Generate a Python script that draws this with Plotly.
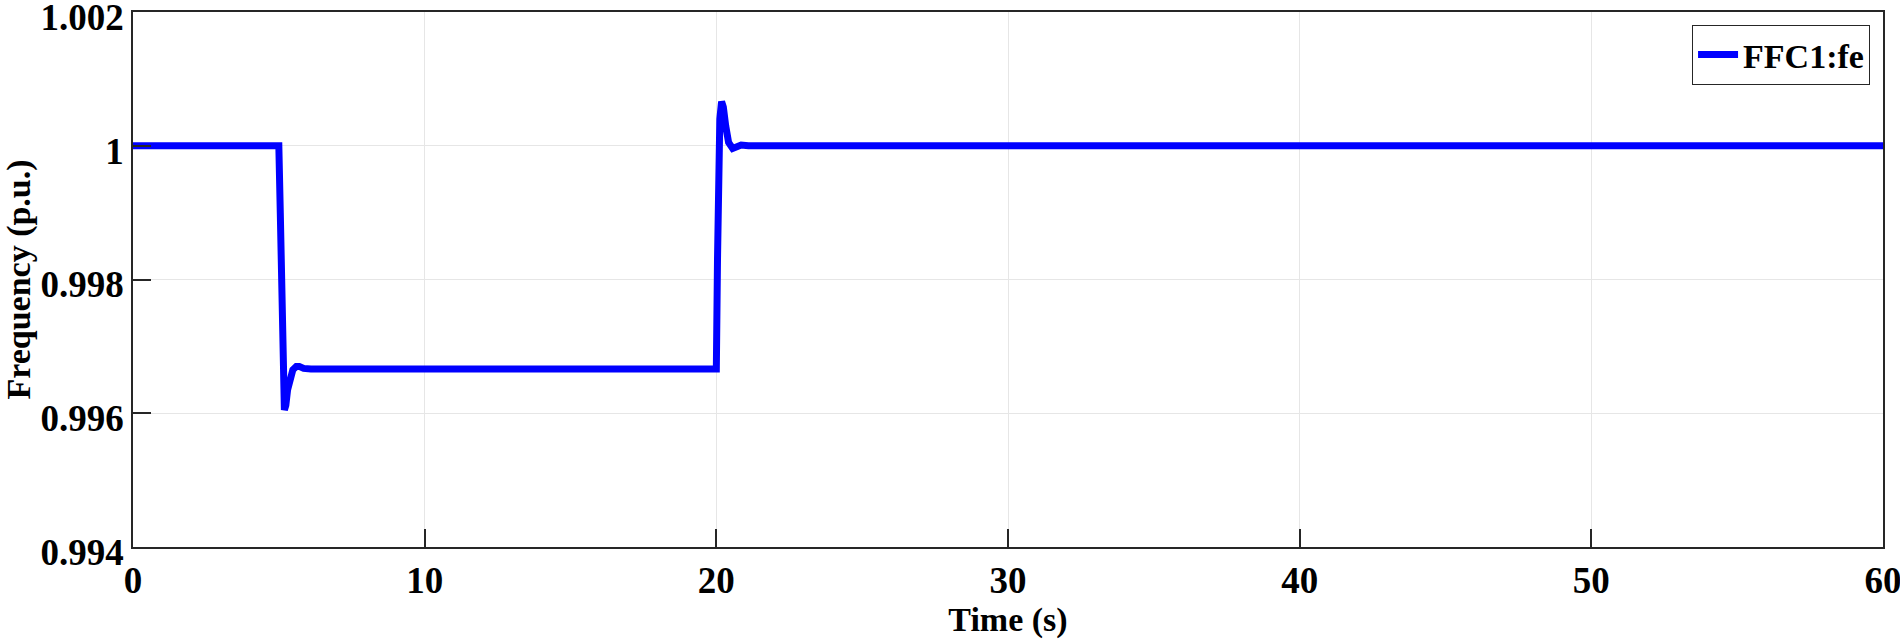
import plotly.graph_objects as go

# Time (s)
time_s = [0, 5.0, 5.05, 5.10, 5.15, 5.19, 5.24, 5.30, 5.38, 5.48, 5.60, 5.70, 5.85, 6.1,
          10, 15, 20.0, 20.04, 20.08, 20.12, 20.18, 20.24, 20.32, 20.42, 20.56, 20.70,
          20.85, 21.1, 30, 40, 50, 60]
# Frequency (p.u.)
freq_pu = [1.0, 1.0, 0.99900, 0.99790, 0.99680, 0.99605, 0.99612, 0.99635, 0.99655, 0.99665,
           0.99670, 0.99670, 0.99667, 0.99666, 0.99666, 0.99666, 0.99666, 0.99830, 0.99950,
           1.00040, 1.00066, 1.00058, 1.00030, 1.00005, 0.99996, 0.99998, 1.00001, 1.0,
           1.0, 1.0, 1.0, 1.0]

x_ticks = [0, 10, 20, 30, 40, 50, 60]
y_ticks = [0.994, 0.996, 0.998, 1.0, 1.002]
y_tick_text = ["0.994", "0.996", "0.998", "1", "1.002"]

FONT = "Liberation Serif"
AX = "#262626"

fig = go.Figure()
fig.add_trace(go.Scatter(
    x=time_s, y=freq_pu, mode="lines", name="FFC1:fe",
    line=dict(color="#0000ff", width=7),
))

fig.update_layout(
    width=1900, height=642,
    margin=dict(l=133, r=17, t=12, b=95),
    paper_bgcolor="white", plot_bgcolor="white",
    font=dict(family=FONT, color="#000000", weight="bold"),
    showlegend=True,
    legend=dict(
        x=0.9926, y=0.9757, xanchor="right", yanchor="top",
        bgcolor="white", bordercolor=AX, borderwidth=1,
        font=dict(family=FONT, size=34, color="#000000", weight="bold"),
        itemwidth=40, tracegroupgap=0,
    ),
)

fig.update_xaxes(
    range=[0, 60], tickvals=x_ticks, automargin=False, ticklabeloverflow="allow",
    showgrid=True, gridcolor="#e6e6e6", gridwidth=1,
    showline=True, linecolor=AX, linewidth=1.5, mirror=True,
    ticks="inside", ticklen=18, tickcolor=AX, tickwidth=1.5,
    tickfont=dict(family=FONT, size=37, color="#000000", weight="bold"),
    title=dict(text="Time (s)", font=dict(family=FONT, size=34, color="#000000", weight="bold"), standoff=6),
    zeroline=False,
)
fig.update_yaxes(
    range=[0.994, 1.002], tickvals=y_ticks, ticktext=y_tick_text, automargin=False,
    ticklabeloverflow="allow", ticklabelshift=5,
    showgrid=True, gridcolor="#e6e6e6", gridwidth=1,
    showline=True, linecolor=AX, linewidth=1.5, mirror=True,
    ticks="inside", ticklen=18, tickcolor=AX, tickwidth=1.5,
    tickfont=dict(family=FONT, size=37, color="#000000", weight="bold"),
    title=dict(text="Frequency (p.u.)", font=dict(family=FONT, size=34, color="#000000", weight="bold"), standoff=4),
    zeroline=False,
)

fig.write_html(
    "out.html",
    config={"displayModeBar": False},
    post_script="document.body.style.margin='0';document.body.style.overflow='hidden';",
)
